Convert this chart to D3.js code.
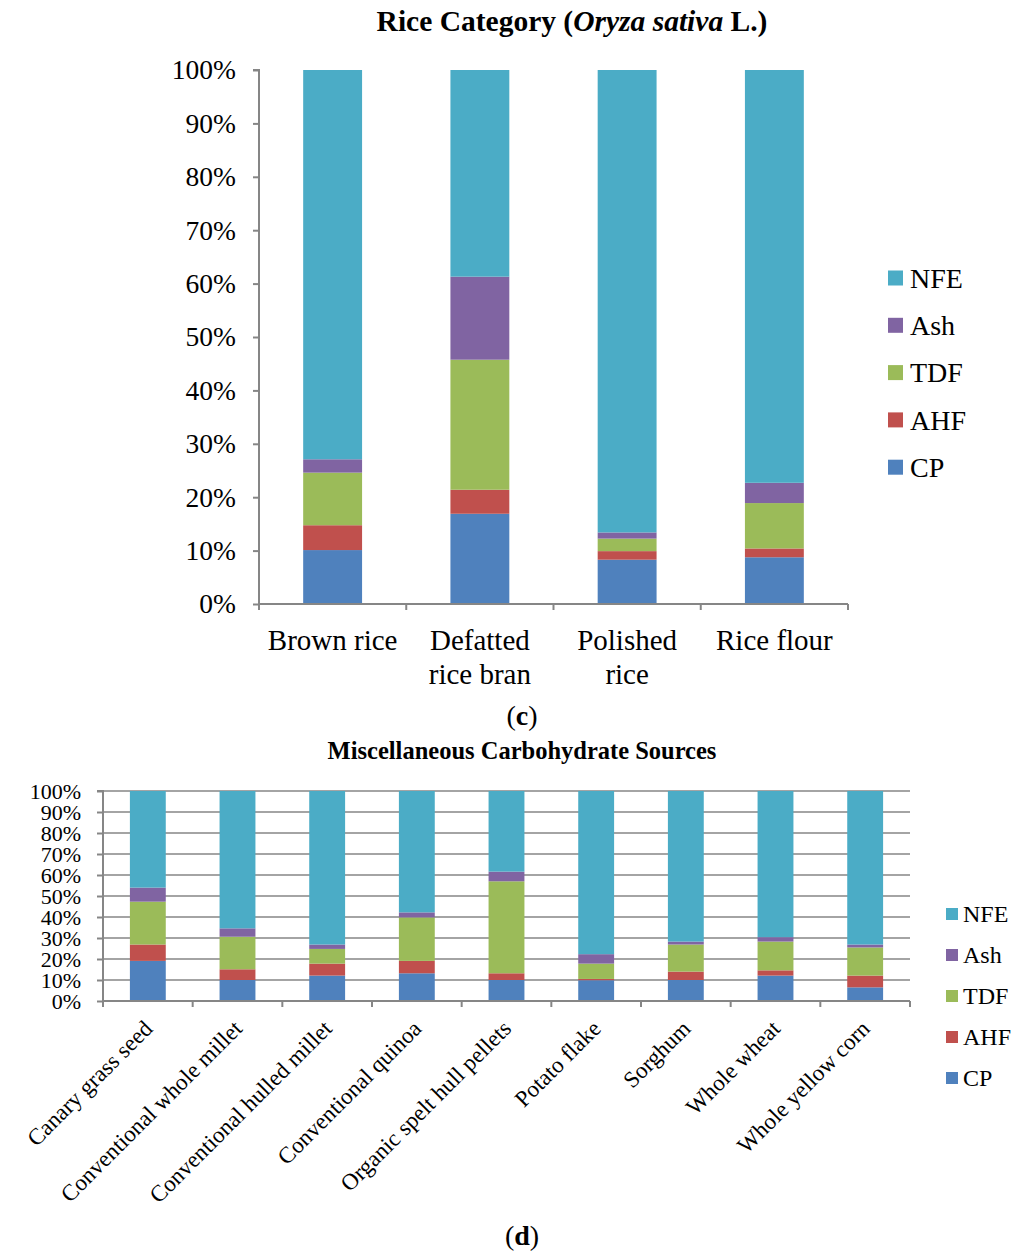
<!DOCTYPE html>
<html><head><meta charset="utf-8">
<script src="https://cdn.jsdelivr.net/npm/d3@7"></script>
<style>
body{margin:0;background:#fff;}
svg{display:block;}
svg text{font-family:"Liberation Serif","Times New Roman","DejaVu Serif",serif;fill:#000;}
</style></head>
<body>
<svg id="chart" width="1024" height="1257"></svg>
<script>
// ---- data ----
const seriesNames = ["CP","AHF","TDF","Ash","NFE"];
const seriesColors = ["#4F81BD","#C0504D","#9BBB59","#8064A2","#4BACC6"];
const yTicks = [0,10,20,30,40,50,60,70,80,90,100];

// (c) Rice category
const riceCategories = ["Brown rice","Defatted rice bran","Polished rice","Rice flour"];
const riceLabelLines = [["Brown rice"],["Defatted","rice bran"],["Polished","rice"],["Rice flour"]];
const riceCP  = [10.1, 16.9, 8.3, 8.75];
const riceAHF = [4.65, 4.5, 1.6, 1.65];
const riceTDF = [9.85, 24.35, 2.35, 8.5];
const riceAsh = [2.5, 15.55, 1.15, 3.8];
const riceNFE = [72.9, 38.7, 86.6, 77.3];

// (d) Miscellaneous carbohydrate sources
const miscCategories = ["Canary grass seed","Conventional whole millet","Conventional hulled millet","Conventional quinoa","Organic spelt hull pellets","Potato flake","Sorghum","Whole wheat","Whole yellow corn"];
const miscCP  = [19.1, 10.0, 12.1, 13.2, 10.0, 9.9, 10.0, 12.1, 6.5];
const miscAHF = [7.8, 5.1, 5.7, 5.9, 3.2, 0.6, 4.0, 2.5, 5.6];
const miscTDF = [20.4, 15.5, 7.0, 20.7, 43.8, 7.3, 12.9, 13.7, 13.4];
const miscAsh = [6.7, 4.0, 2.1, 2.4, 4.6, 4.5, 1.4, 2.1, 1.4];
const miscNFE = [46.0, 65.4, 73.1, 57.8, 38.4, 77.7, 71.7, 69.6, 73.1];

const svg = d3.select("#chart");
const axisColor = "#868686";
const FONT = "Liberation Serif, Times New Roman, serif";

function buildRows(cats, arrs){
  return cats.map((c,i)=>{
    const r = {cat:c};
    seriesNames.forEach((s,k)=>{ r[s]=arrs[k][i]; });
    return r;
  });
}

function drawChart(opt){
  const g = svg.append("g");
  const rows = buildRows(opt.categories, opt.arrays);
  const stack = d3.stack().keys(seriesNames)(rows);
  const x = d3.scaleBand().domain(opt.categories).range([opt.x0,opt.x1]).paddingInner(0.6).paddingOuter(0.3);
  const y = d3.scaleLinear().domain([0,100]).range([opt.y1,opt.y0]);
  const step = x.step();

  // gridlines
  if(opt.grid){
    g.append("g").selectAll("line").data(yTicks.filter(d=>d>0)).join("line")
      .attr("x1",opt.x0).attr("x2",opt.x1)
      .attr("y1",d=>y(d)).attr("y2",d=>y(d))
      .attr("stroke",axisColor).attr("stroke-width",1.6);
  }

  // bars
  g.append("g").selectAll("g").data(stack).join("g")
    .attr("fill",(d,i)=>seriesColors[i])
    .selectAll("rect").data(d=>d).join("rect")
    .attr("x",d=>x(d.data.cat))
    .attr("width",x.bandwidth())
    .attr("y",d=>y(d[1]))
    .attr("height",d=>y(d[0])-y(d[1]));

  // y axis
  const yAxis = d3.axisLeft(y).tickValues(yTicks).tickFormat(d=>d+"%").tickSize(opt.tick).tickPadding(opt.ypad);
  const ya = g.append("g").attr("transform",`translate(${opt.x0},0)`).call(yAxis)
    .attr("font-family",FONT).attr("font-size",opt.yfont);
  ya.select(".domain").attr("stroke",axisColor).attr("stroke-width",2).attr("d",`M-${opt.tick},${opt.y0}H0V${opt.y1}`);
  ya.selectAll(".tick line").attr("stroke",axisColor).attr("stroke-width",2);
  ya.selectAll(".tick text").attr("font-family",FONT).attr("font-size",opt.yfont).attr("fill","#000");

  // x axis line & boundary ticks
  const boundaries = d3.range(opt.categories.length+1).map(i=>opt.x0+i*step);
  g.append("line").attr("x1",opt.x0).attr("x2",opt.x1).attr("y1",opt.y1).attr("y2",opt.y1)
    .attr("stroke",axisColor).attr("stroke-width",2);
  g.append("g").selectAll("line").data(boundaries).join("line")
    .attr("x1",d=>d).attr("x2",d=>d).attr("y1",opt.y1).attr("y2",opt.y1+opt.tick)
    .attr("stroke",axisColor).attr("stroke-width",2);

  // x labels
  opt.drawXLabels(g,x);

  // title
  opt.drawTitle(g);

  // legend
  const leg = g.append("g");
  const items = seriesNames.map((s,i)=>({s,c:seriesColors[i]})).reverse();
  items.forEach((it,i)=>{
    const yy = opt.legY + i*opt.legGap;
    leg.append("rect").attr("x",opt.legX).attr("y",yy-opt.legSq/2).attr("width",opt.legSq).attr("height",opt.legSq).attr("fill",it.c);
    leg.append("text").attr("x",opt.legX+opt.legSq+opt.legPad).attr("y",yy).attr("dy","0.35em")
      .attr("font-family",FONT).attr("font-size",opt.legFont).text(it.s);
  });
}

// (c)
drawChart({
  categories: riceCategories,
  arrays: [riceCP,riceAHF,riceTDF,riceAsh,riceNFE],
  x0:259, x1:848, y0:70, y1:604, grid:false, tick:6, ypad:17, yfont:27.5,
  legX:888, legY:278, legGap:47.3, legSq:15, legFont:28, legPad:7,
  drawXLabels:(g,x)=>{
    riceCategories.forEach((c,i)=>{
      const cx = x(c)+x.bandwidth()/2;
      const t = g.append("text").attr("x",cx).attr("y",650)
        .attr("text-anchor","middle").attr("font-family",FONT).attr("font-size",29);
      riceLabelLines[i].forEach((ln,j)=>{
        t.append("tspan").attr("x",cx).attr("dy",j===0?0:34).text(ln);
      });
    });
  },
  drawTitle:(g)=>{
    const t = g.append("text").attr("x",572).attr("y",31).attr("text-anchor","middle")
      .attr("font-family",FONT).attr("font-size",29.5).attr("font-weight","bold");
    t.append("tspan").text("Rice Category (");
    t.append("tspan").attr("font-style","italic").text("Oryza sativa");
    t.append("tspan").text(" L.)");
  }
});

// (d)
drawChart({
  categories: miscCategories,
  arrays: [miscCP,miscAHF,miscTDF,miscAsh,miscNFE],
  x0:103, x1:910, y0:791, y1:1001, grid:true, tick:6, ypad:16, yfont:22,
  legX:946, legY:914, legGap:41, legSq:12, legFont:24, legPad:5,
  drawXLabels:(g,x)=>{
    g.append("g").selectAll("text").data(miscCategories).join("text")
      .attr("transform",d=>`translate(${x(d)+x.bandwidth()/2+6},${1030}) rotate(-45)`)
      .attr("text-anchor","end").attr("font-family",FONT).attr("font-size",23).text(d=>d);
  },
  drawTitle:(g)=>{
    g.append("text").attr("x",522).attr("y",759).attr("text-anchor","middle")
      .attr("font-family",FONT).attr("font-size",24.5).attr("font-weight","bold").text("Miscellaneous Carbohydrate Sources");
  }
});

// panel labels
function panelLabel(letter, y){
  const t = svg.append("text").attr("x",522).attr("y",y).attr("text-anchor","middle")
    .attr("font-family",FONT).attr("font-size",28);
  t.append("tspan").text("(");
  t.append("tspan").attr("font-weight","bold").text(letter);
  t.append("tspan").text(")");
}
panelLabel("c",725);
panelLabel("d",1245);
</script>
</body></html>
